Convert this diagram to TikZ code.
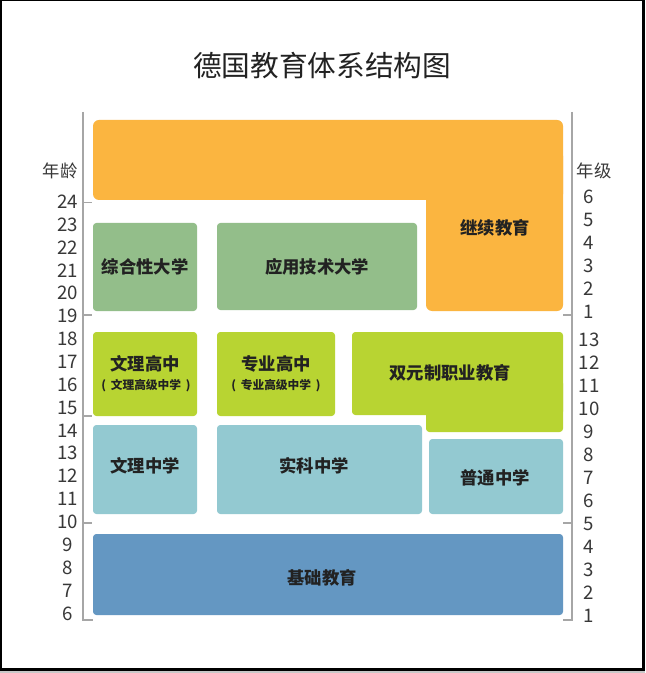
\documentclass[tikz,border=0pt]{standalone}
\usepackage{fontspec}
\setmainfont{Noto Sans CJK SC}
\definecolor{frameshade}{HTML}{C8C8C8}
\definecolor{axisgray}{HTML}{A6A6A6}
\definecolor{contorange}{HTML}{FBB540}
\definecolor{unigreen}{HTML}{93BE8A}
\definecolor{highlime}{HTML}{B8D432}
\definecolor{midblue}{HTML}{93C9D1}
\definecolor{baseblue}{HTML}{6497C2}
\definecolor{labeltext}{HTML}{222222}
\newcommand{\boxfont}{\fontsize{13}{15}\selectfont\bfseries}
\newcommand{\subfont}{\fontsize{8.8}{10}\selectfont\bfseries}
\newcommand{\numfont}{\fontsize{14}{16}\selectfont}

\begin{document}
\begin{tikzpicture}[x=0.75pt,y=-0.75pt]
  \tikzset{
    stage/.style={rounded corners=2.5pt},
    boxlabel/.style={font=\boxfont,text=labeltext,inner sep=0pt},
    sublabel/.style={font=\subfont,text=labeltext,inner sep=0pt},
    scalenum/.style={font=\numfont,text=labeltext!90,inner sep=0pt},
    axisline/.style={axisgray,line width=1.1pt},
  }
  \useasboundingbox (0,0) rectangle (645,673);
  % frame with shadow
  \fill[black] (0,0) rectangle (645,671);
  \fill[frameshade] (0,671) rectangle (645,673);
  \fill[white] (1.5,1.5) rectangle (642,668);

  \node[font=\fontsize{21.5}{24}\selectfont,text=labeltext] (title) at (322,66) {德国教育体系结构图};

  % age scale
  \node[scalenum,font=\fontsize{13}{15}\selectfont] (agehead) at (60,171) {年龄};
  \foreach \a in {6,...,24}
    \node[scalenum] (age\a) at (67.5,{201.7+(24-\a)*22.87}) {\a};
  \draw[axisline] (83,112) -- (83,620) -- (93,620);
  \foreach \y in {202.7,315,416,523}
    \draw[axisline] (83,\y) -- (92,\y);

  % grade scale
  \node[scalenum,font=\fontsize{13}{15}\selectfont] (gradehead) at (594,171) {年级};
  \foreach \g in {1,...,6}
    \node[scalenum] (upper\g) at (589,{197+(6-\g)*23}) {\g};
  \foreach \g in {1,...,13}
    \node[scalenum] (lower\g) at (589,{340+(13-\g)*23}) {\g};
  \draw[axisline] (572,112) -- (572,620) -- (563,620);
  \foreach \y in {315,523}
    \draw[axisline] (572,\y) -- (563,\y);

  % continuing education
  \fill[contorange,rounded corners=4.5pt] (93,120) rectangle (563,200);
  \fill[contorange,rounded corners=4.5pt] (426,150) rectangle (563,311);
  \node[boxlabel] (further) at (495,228) {继续教育};

  % universities
  \fill[unigreen,stage] (93,223) rectangle (197,311);
  \node[boxlabel] (univ) at (145,267) {综合性大学};
  \fill[unigreen,stage] (217,223) rectangle (417,310);
  \node[boxlabel] (appluniv) at (317,267) {应用技术大学};

  % upper secondary
  \fill[highlime,stage] (93,332) rectangle (197,416);
  \node[boxlabel] (gymhigh) at (145,364) {文理高中};
  \node[sublabel] (gymsub) at (146,386) {(\hspace{3.5pt}文理高级中学\hspace{3.5pt})};
  \fill[highlime,stage] (217,332) rectangle (335,416);
  \node[boxlabel] (fachhigh) at (276,364) {专业高中};
  \node[sublabel] (fachsub) at (276,386) {(\hspace{3.5pt}专业高级中学\hspace{3.5pt})};
  \fill[highlime,stage] (352,332) rectangle (563,415);
  \fill[highlime,stage] (426,380) rectangle (563,432);
  \node[boxlabel] (dual) at (450,373) {双元制职业教育};

  % lower secondary
  \fill[midblue,stage] (93,425) rectangle (197,514);
  \node[boxlabel] (gymlow) at (145,466) {文理中学};
  \fill[midblue,stage] (217,425) rectangle (422,514);
  \node[boxlabel] (real) at (314,466) {实科中学};
  \fill[midblue,stage] (429,439) rectangle (563,514);
  \node[boxlabel] (haupt) at (495,478) {普通中学};

  % primary
  \fill[baseblue,stage] (93,534) rectangle (563,615);
  \node[boxlabel] (primary) at (322,578) {基础教育};
\end{tikzpicture}
\end{document}
